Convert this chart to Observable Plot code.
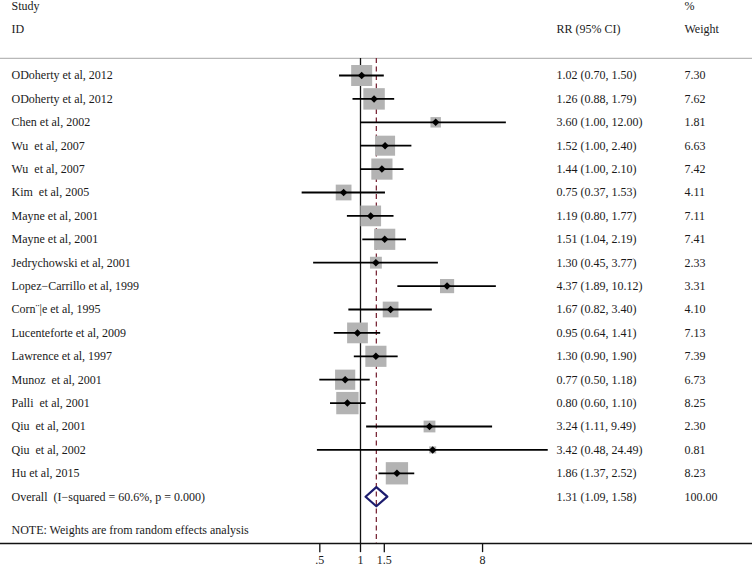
<!DOCTYPE html>
<html>
<head>
<meta charset="utf-8">
<script src="https://cdn.jsdelivr.net/npm/d3@7"></script>
<script src="https://cdn.jsdelivr.net/npm/@observablehq/plot@0.6"></script>
<style>
  html, body { margin: 0; padding: 0; background: #fff; }
  svg text { white-space: pre; }
</style>
</head>
<body>
<div id="chart"></div>
<script>
const studies = [
  "ODoherty et al, 2012", "ODoherty et al, 2012", "Chen et al, 2002",
  "Wu  et al, 2007", "Wu  et al, 2007", "Kim  et al, 2005",
  "Mayne et al, 2001", "Mayne et al, 2001", "Jedrychowski et al, 2001",
  "Lopez\u2212Carrillo et al, 1999", "Corn\u00a8|e et al, 1995", "Lucenteforte et al, 2009",
  "Lawrence et al, 1997", "Munoz  et al, 2001", "Palli  et al, 2001",
  "Qiu  et al, 2001", "Qiu  et al, 2002", "Hu et al, 2015"
];
const rr =      [1.02, 1.26, 3.60, 1.52, 1.44, 0.75, 1.19, 1.51, 1.30, 4.37, 1.67, 0.95, 1.30, 0.77, 0.80, 3.24, 3.42, 1.86];
const lower =   [0.70, 0.88, 1.00, 1.00, 1.00, 0.37, 0.80, 1.04, 0.45, 1.89, 0.82, 0.64, 0.90, 0.50, 0.60, 1.11, 0.48, 1.37];
const upper =   [1.50, 1.79, 12.00, 2.40, 2.10, 1.53, 1.77, 2.19, 3.77, 10.12, 3.40, 1.41, 1.90, 1.18, 1.10, 9.49, 24.49, 2.52];
const weights = [7.30, 7.62, 1.81, 6.63, 7.42, 4.11, 7.11, 7.41, 2.33, 3.31, 4.10, 7.13, 7.39, 6.73, 8.25, 2.30, 0.81, 8.23];

const overallLabel = "Overall  (I\u2212squared = 60.6%, p = 0.000)";
const overall = {rr: 1.31, lower: 1.09, upper: 1.58, weight: 100.00};
const noteText = "NOTE: Weights are from random effects analysis";
const xTicks = [0.5, 1, 1.5, 8];
const xTickLabels = [".5", "1", "1.5", "8"];

const rows = studies.map((s, i) => ({
  i, study: s, rr: rr[i], lo: lower[i], hi: upper[i], w: weights[i],
  ci: `${rr[i].toFixed(2)} (${lower[i].toFixed(2)}, ${upper[i].toFixed(2)})`,
  wt: weights[i].toFixed(2)
}));
const oRow = studies.length; // 18
const diamondH = 0.41;
const diamond = [
  {x: overall.lower, y: oRow},
  {x: overall.rr, y: oRow - diamondH},
  {x: overall.upper, y: oRow},
  {x: overall.rr, y: oRow + diamondH},
  {x: overall.lower, y: oRow}
];
const tickData = xTicks.map((t, k) => ({t, label: xTickLabels[k]}));

const rowH = 23.4;
const y0 = 75;
const lineTop = -0.73;
const axisRow = 20;

const font = "'Liberation Serif', 'Times New Roman', serif";
const fs = 12;
const textColor = "#1a1a1a";

const plot = Plot.plot({
  width: 752,
  height: 567,
  margin: 0,
  style: {fontFamily: font, fontSize: fs + "px", background: "#fff"},
  x: {type: "log", domain: [0.25, 32], range: [360 + Math.log(0.25) * 58.7, 360 + Math.log(32) * 58.7], axis: null},
  y: {type: "linear", domain: [-3, 20], range: [y0 - 3 * rowH, y0 + 20 * rowH], axis: null},
  r: {type: "sqrt", domain: [0, 8.25], range: [0, 12.6]},
  marks: [
    Plot.ruleY([lineTop], {stroke: "#b8b8b8", strokeWidth: 1.2}),
    Plot.ruleY([axisRow], {stroke: "#111", strokeWidth: 1.3}),
    Plot.ruleX([1], {y1: lineTop, y2: axisRow, stroke: "#111", strokeWidth: 1.3}),
    Plot.ruleX([overall.rr], {y1: lineTop, y2: axisRow, stroke: "#7b2a3a", strokeWidth: 1.3, strokeDasharray: "5,3.5"}),
    Plot.dot(rows, {x: "rr", y: "i", r: "w", symbol: "square", fill: "#b3b3b3", stroke: "none"}),
    Plot.ruleY(rows, {y: "i", x1: "lo", x2: "hi", stroke: "#000", strokeWidth: 1.8}),
    Plot.dot(rows, {x: "rr", y: "i", symbol: "diamond2", r: 3.4, fill: "#000", stroke: "none"}),
    Plot.line(diamond, {x: "x", y: "y", stroke: "#1c1c6e", strokeWidth: 2.2, fill: "none", curve: "linear"}),
    Plot.ruleX(tickData, {x: "t", y1: axisRow, y2: axisRow + 0.39, stroke: "#111", strokeWidth: 1.3}),
    Plot.text(tickData, {x: "t", y: axisRow + 0.72, text: "label", fill: textColor, fontSize: fs, textAnchor: "middle"}),
    Plot.text(["Study"], {y: -2.95, text: d => d, frameAnchor: "left", dx: 11, textAnchor: "start", fill: textColor}),
    Plot.text(["ID"], {y: -1.97, text: d => d, frameAnchor: "left", dx: 11, textAnchor: "start", fill: textColor}),
    Plot.text(["RR (95% CI)"], {y: -1.97, text: d => d, frameAnchor: "left", dx: 556, textAnchor: "start", fill: textColor}),
    Plot.text(["%"], {y: -2.95, text: d => d, frameAnchor: "left", dx: 684, textAnchor: "start", fill: textColor}),
    Plot.text(["Weight"], {y: -1.97, text: d => d, frameAnchor: "left", dx: 684, textAnchor: "start", fill: textColor}),
    Plot.text(rows, {y: "i", text: "study", frameAnchor: "left", dx: 11, textAnchor: "start", fill: textColor}),
    Plot.text(rows, {y: "i", text: "ci", frameAnchor: "left", dx: 556, textAnchor: "start", fill: textColor}),
    Plot.text(rows, {y: "i", text: "wt", frameAnchor: "left", dx: 684, textAnchor: "start", fill: textColor}),
    Plot.text([overallLabel], {y: oRow, text: d => d, frameAnchor: "left", dx: 11, textAnchor: "start", fill: textColor}),
    Plot.text([`${overall.rr.toFixed(2)} (${overall.lower.toFixed(2)}, ${overall.upper.toFixed(2)})`], {y: oRow, text: d => d, frameAnchor: "left", dx: 556, textAnchor: "start", fill: textColor}),
    Plot.text([overall.weight.toFixed(2)], {y: oRow, text: d => d, frameAnchor: "left", dx: 684, textAnchor: "start", fill: textColor}),
    Plot.text([noteText], {y: 19.45, text: d => d, frameAnchor: "left", dx: 11, textAnchor: "start", fill: textColor})
  ]
});
document.getElementById("chart").appendChild(plot);
</script>
</body>
</html>
